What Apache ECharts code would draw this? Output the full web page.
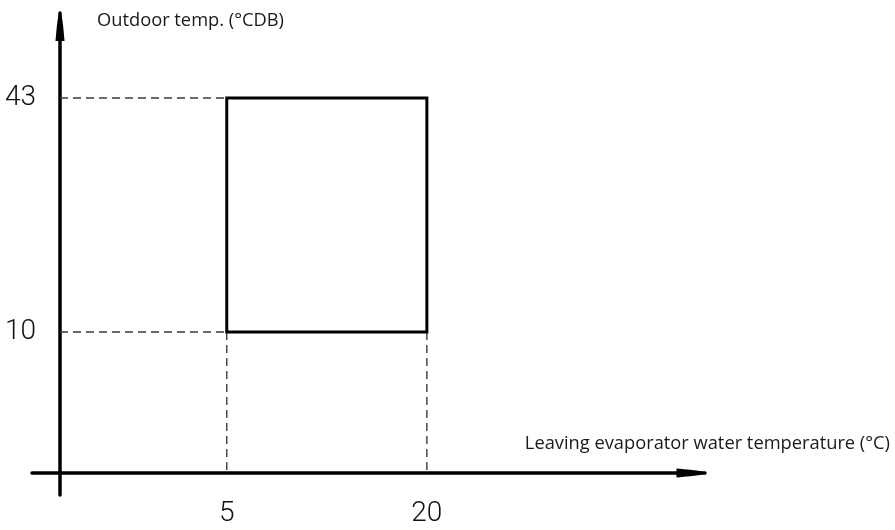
<!DOCTYPE html>
<html>
<head>
<meta charset="utf-8">
<title>Operating range</title>
<style>
  html, body { margin: 0; padding: 0; background: #ffffff; }
  #chart { width: 895px; height: 530px; }
</style>
<script src="https://cdn.jsdelivr.net/npm/echarts@6.0.0/dist/echarts.min.js"></script>
</head>
<body>
<div id="chart"></div>
<script>
// Operating envelope limits
const waterTempLimits = [5, 20];      // leaving evaporator water temperature, °C
const outdoorTempLimits = [10, 43];   // outdoor temperature, °CDB
const xTickValues = [5, 20];
const yTickValues = [10, 43];
const xAxisTitle = 'Leaving evaporator water temperature (°C)';
const yAxisTitle = 'Outdoor temp. (°CDB)';

// Schematic axis extents (the axes do not cross at zero)
const X_MIN = -9.6, X_MAX = 40.85;
const Y_MIN = -13, Y_MAX = 55;
const GRID = { left: 32, right: 190, top: 13, bottom: 35 };
const Y_AXIS_SHIFT = 28;   // y axis sits this far inside the grid's left edge
const X_AXIS_SHIFT = 22;   // x axis sits this far above the grid's bottom edge

const TICK_FONT = "Roboto, 'DejaVu Sans', sans-serif";
const NAME_FONT = "'Open Sans', 'Noto Sans', sans-serif";
const ARROW = 'path://M5,0 C7,0 8,6 10,30 L0,30 C2,6 3,0 5,0 Z';

const chart = echarts.init(document.getElementById('chart'), null, { renderer: 'canvas' });

// Values at which each axis line crosses the other axis
const gridW = chart.getWidth() - GRID.left - GRID.right;
const gridH = chart.getHeight() - GRID.top - GRID.bottom;
const xCross = X_MIN + Y_AXIS_SHIFT * (X_MAX - X_MIN) / gridW;
const yCross = Y_MIN + X_AXIS_SHIFT * (Y_MAX - Y_MIN) / gridH;

const [wLo, wHi] = waterTempLimits;
const [oLo, oHi] = outdoorTempLimits;

// Dashed leader lines from the envelope corners back to the axes
const guideStyle = { color: '#3a3a3a', width: 1.4, type: [8, 5] };
const guides = [
  [[xCross, oLo], [wLo, oLo]],
  [[xCross, oHi], [wLo, oHi]],
  [[wLo, oLo], [wLo, yCross]],
  [[wHi, oLo], [wHi, yCross]]
].map(seg => ({
  type: 'line', data: seg, symbol: 'none', silent: true, z: 2, lineStyle: guideStyle
}));

// Operating envelope outline
const envelope = {
  type: 'line',
  data: [[wLo, oLo], [wLo, oHi], [wHi, oHi], [wHi, oLo], [wLo, oLo]],
  symbol: 'none', silent: true, z: 3,
  lineStyle: { color: '#000000', width: 3, join: 'miter', cap: 'square' }
};

const axisLineCommon = { show: true, onZero: false, lineStyle: { color: '#000000', width: 3.5 } };

chart.setOption({
  animation: false,
  backgroundColor: '#ffffff',
  grid: GRID,
  xAxis: {
    type: 'value', min: X_MIN, max: X_MAX, offset: -X_AXIS_SHIFT,
    splitLine: { show: false }, axisTick: { show: false },
    axisLine: Object.assign({}, axisLineCommon, { symbol: ['none', ARROW], symbolSize: [9, 30], symbolOffset: [0, -15] }),
    axisLabel: { customValues: xTickValues, margin: 27, color: '#111111', fontFamily: TICK_FONT, fontWeight: 300, fontSize: 28 },
    name: xAxisTitle, nameLocation: 'end', nameGap: 185,
    nameTextStyle: { fontFamily: NAME_FONT, fontSize: 18.3, color: '#1a1a1a', align: 'right', verticalAlign: 'bottom', padding: [0, 0, 20, 0] }
  },
  yAxis: {
    type: 'value', min: Y_MIN, max: Y_MAX, offset: -Y_AXIS_SHIFT,
    splitLine: { show: false }, axisTick: { show: false },
    axisLine: Object.assign({}, axisLineCommon, { symbol: ['none', ARROW], symbolSize: [9, 29], symbolOffset: [0, -14.5] }),
    axisLabel: { customValues: yTickValues, margin: 24, color: '#111111', fontFamily: TICK_FONT, fontWeight: 300, fontSize: 28 },
    name: yAxisTitle, nameLocation: 'end', nameGap: -8,
    nameTextStyle: { fontFamily: NAME_FONT, fontSize: 18.3, color: '#1a1a1a', align: 'left', verticalAlign: 'middle', padding: [0, 0, 0, 37] }
  },
  series: guides.concat([envelope])
});
</script>
</body>
</html>
